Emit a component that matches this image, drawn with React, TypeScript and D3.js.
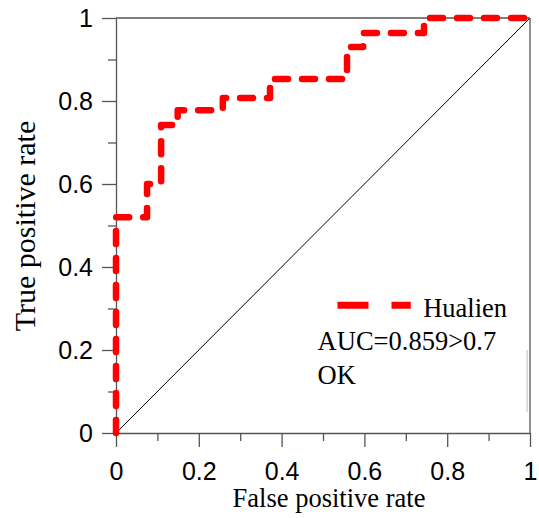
import React, { useEffect, useRef } from "react";
import * as d3 from "d3";

// ROC curve (staircase points)
const fpr = [0, 0, 0.075, 0.075, 0.109, 0.109, 0.149, 0.149, 0.258, 0.258, 0.372, 0.372, 0.558, 0.558, 0.597, 0.597, 0.744, 0.744, 1];
const tpr = [0, 0.52, 0.52, 0.6, 0.6, 0.742, 0.742, 0.778, 0.778, 0.807, 0.807, 0.853, 0.853, 0.93, 0.93, 0.964, 0.964, 1, 1];

const tickValues = [0, 0.2, 0.4, 0.6, 0.8, 1];
const tickLabels = ["0", "0.2", "0.4", "0.6", "0.8", "1"];
const minorTicks = [0.1, 0.3, 0.5, 0.7, 0.9];

const seriesName = "Hualien";
const noteLines = ["AUC=0.859>0.7", "OK"];

const width = 539;
const height = 518;
const margin = { top: 18, right: 9, bottom: 85, left: 116 };
const innerW = width - margin.left - margin.right;
const innerH = height - margin.top - margin.bottom;

const sansFont = "'Liberation Sans', Arial, sans-serif";
const serifFont = "'Liberation Serif', 'Times New Roman', serif";
const axisColor = "#555";

const Axis = ({ scale, orient, transform }) => {
  const majorRef = useRef(null);
  const minorRef = useRef(null);

  useEffect(() => {
    const make = orient === "bottom" ? d3.axisBottom : d3.axisLeft;
    const major = make(scale)
      .tickValues(tickValues)
      .tickFormat((d, i) => tickLabels[i])
      .tickSize(14)
      .tickSizeOuter(0)
      .tickPadding(orient === "bottom" ? 15 : 9);
    const minor = make(scale).tickValues(minorTicks).tickFormat(() => "").tickSize(8).tickSizeOuter(0);

    const g = d3.select(majorRef.current).call(major);
    g.select(".domain").attr("stroke", axisColor).attr("stroke-width", 1.3);
    g.selectAll(".tick line").attr("stroke", axisColor).attr("stroke-width", 1.3);
    g.selectAll(".tick text")
      .attr("fill", "#000")
      .style("font-family", sansFont)
      .style("font-size", "25px");

    const m = d3.select(minorRef.current).call(minor);
    m.select(".domain").remove();
    m.selectAll(".tick line").attr("stroke", axisColor).attr("stroke-width", 1.3);
  }, [scale, orient]);

  return (
    <g transform={transform}>
      <g ref={minorRef} />
      <g ref={majorRef} />
    </g>
  );
};

export default function App() {
  const x = d3.scaleLinear().domain([0, 1]).range([0, innerW]);
  const y = d3.scaleLinear().domain([0, 1]).range([innerH, 0]);

  const points = fpr.map((f, i) => [f, tpr[i]]);
  const line = d3
    .line()
    .x((d) => x(d[0]))
    .y((d) => y(d[1]));

  return (
    <svg
      width={width}
      height={height}
      style={{ position: "absolute", left: 0, top: 0, background: "#fff" }}
    >
      <g transform={`translate(${margin.left},${margin.top})`}>
        {/* chance diagonal */}
        <line x1={x(0)} y1={y(0)} x2={x(1)} y2={y(1)} stroke="#000" strokeWidth={1} />

        {/* frame top / right */}
        <line x1={x(0)} y1={y(1)} x2={x(1)} y2={y(1)} stroke={axisColor} strokeWidth={1.3} />
        <line x1={x(1)} y1={y(1)} x2={x(1)} y2={y(0)} stroke={axisColor} strokeWidth={1.3} />

        <Axis scale={x} orient="bottom" transform={`translate(0,${innerH})`} />
        <Axis scale={y} orient="left" transform="translate(0,0)" />

        {/* ROC curve */}
        <path
          d={line(points)}
          fill="none"
          stroke="#ff0000"
          strokeWidth={6.5}
          strokeDasharray="13,14"
          strokeLinecap="round"
          strokeLinejoin="round"
        />

        {/* faint vertical mark near right border */}
        <line x1={x(0.993)} y1={y(0.2)} x2={x(0.993)} y2={y(0.05)} stroke="#b8bfcc" strokeWidth={1} />

        {/* legend */}
        <line
          x1={x(0.535)}
          y1={y(0.308)}
          x2={x(0.712)}
          y2={y(0.308)}
          stroke="#ff0000"
          strokeWidth={7}
          strokeDasharray="31,23"
        />
        <text
          x={x(0.742)}
          y={y(0.28)}
          style={{ fontFamily: serifFont, fontSize: "26.5px" }}
          fill="#000"
        >
          {seriesName}
        </text>
        {noteLines.map((t, i) => (
          <text
            key={t}
            x={x(0.487)}
            y={y(0.2) + i * 34}
            style={{ fontFamily: serifFont, fontSize: "26.5px" }}
            fill="#000"
          >
            {t}
          </text>
        ))}
      </g>

      {/* axis titles */}
      <text
        x={329}
        y={507}
        textAnchor="middle"
        style={{ fontFamily: serifFont, fontSize: "26.5px" }}
        fill="#000"
      >
        False positive rate
      </text>
      <text
        transform="translate(35,226) rotate(-90)"
        textAnchor="middle"
        style={{ fontFamily: serifFont, fontSize: "30px" }}
        fill="#000"
      >
        True positive rate
      </text>
    </svg>
  );
}
